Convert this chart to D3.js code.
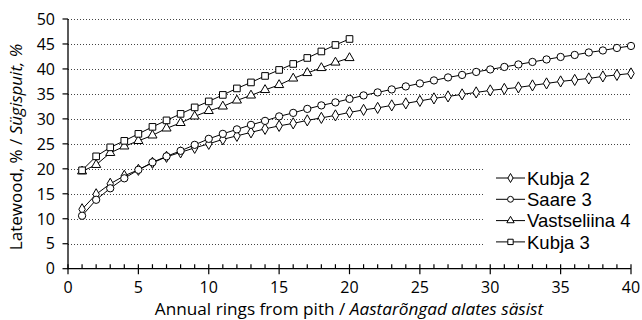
<!DOCTYPE html>
<html>
<head>
<meta charset="utf-8">
<script src="https://cdn.jsdelivr.net/npm/d3@7"></script>
<style>
  html, body { margin: 0; padding: 0; background: #fff; }
  svg { display: block; font-family: "Open Sans", Lato, sans-serif; }
</style>
</head>
<body>
<svg id="chart" width="642" height="320"></svg>
<script>
// Latewood share by annual ring from pith
const rings40 = d3.range(1, 41);
const rings20 = d3.range(1, 21);

const kubja2 = [11.9, 14.9, 17.0, 18.6, 19.8, 21.2, 22.4, 23.3, 24.2, 25.0,
                25.9, 26.6, 27.3, 28.0, 28.6, 29.1, 29.7, 30.2, 30.7, 31.3,
                31.8, 32.2, 32.7, 33.1, 33.6, 34.1, 34.5, 34.9, 35.3, 35.7,
                36.0, 36.3, 36.7, 37.1, 37.5, 37.8, 38.1, 38.5, 38.8, 39.1];
const saare3 = [10.6, 13.8, 16.1, 18.1, 19.8, 21.3, 22.5, 23.6, 24.8, 26.0,
                27.0, 27.9, 28.8, 29.6, 30.5, 31.2, 32.0, 32.7, 33.3, 34.0,
                34.7, 35.3, 35.9, 36.5, 37.1, 37.7, 38.3, 38.8, 39.4, 39.9,
                40.4, 40.9, 41.4, 41.9, 42.4, 42.8, 43.3, 43.7, 44.2, 44.6];
const vastseliina4 = [19.5, 20.8, 23.2, 24.5, 25.6, 26.7, 28.1, 29.2, 30.5, 31.6,
                      32.5, 33.7, 34.7, 35.8, 36.8, 38.1, 39.2, 40.2, 41.3, 42.2];
const kubja3 = [19.7, 22.5, 24.3, 25.6, 27.0, 28.4, 29.7, 31.0, 32.3, 33.5,
                34.8, 36.1, 37.3, 38.6, 39.8, 41.0, 42.2, 43.5, 44.8, 46.0];

const seriesNames = ["Kubja 2", "Saare 3", "Vastseliina 4", "Kubja 3"];
const xTicks = [0, 5, 10, 15, 20, 25, 30, 35, 40];
const yTicks = [0, 5, 10, 15, 20, 25, 30, 35, 40, 45, 50];
const xTitle = ["Annual rings from pith / ", "Aastarõngad alates säsist"];
const yTitle = ["Latewood, % / ", "Sügispuit, %"];

const series = [
  { name: seriesNames[0], x: rings40, y: kubja2, symbol: d3.symbolDiamond, size: 36 },
  { name: seriesNames[1], x: rings40, y: saare3, symbol: d3.symbolCircle, size: 42 },
  { name: seriesNames[2], x: rings20, y: vastseliina4, symbol: d3.symbolTriangle, size: 36 },
  { name: seriesNames[3], x: rings20, y: kubja3, symbol: d3.symbolSquare, size: 44 }
];

const svg = d3.select("#chart");
const margin = { left: 68, top: 19, right: 11, bottom: 52 };
const W = 642, H = 320;

const x = d3.scaleLinear().domain([0, 40]).range([margin.left, W - margin.right]);
const y = d3.scaleLinear().domain([0, 50]).range([H - margin.bottom + 0.7, margin.top]);

// dotted horizontal gridlines
svg.append("g")
  .selectAll("line")
  .data(yTicks.filter(d => d > 0))
  .join("line")
  .attr("x1", x(0)).attr("x2", x(40))
  .attr("y1", d => Math.round(y(d)) + 0.5).attr("y2", d => Math.round(y(d)) + 0.5)
  .attr("stroke", "#444").attr("stroke-width", 1)
  .attr("stroke-dasharray", "1,2");

// series lines and markers
const line = d3.line().x(d => x(d[0])).y(d => y(d[1]));
series.forEach(s => {
  const pts = s.x.map((v, i) => [v, s.y[i]]);
  svg.append("path")
    .datum(pts)
    .attr("d", line)
    .attr("fill", "none").attr("stroke", "#000").attr("stroke-width", 1);
  svg.append("g")
    .selectAll("path")
    .data(pts)
    .join("path")
    .attr("transform", d => `translate(${x(d[0])},${y(d[1])})`)
    .attr("d", d3.symbol(s.symbol, s.size))
    .attr("fill", "#fff").attr("stroke", "#000").attr("stroke-width", 1);
});

// legend (white box over the gridlines)
const lg = svg.append("g").attr("transform", "translate(483,158)");
lg.append("rect").attr("width", 159).attr("height", 96).attr("fill", "#fff");
series.forEach((s, i) => {
  const cy = 20 + i * 21.3;
  lg.append("line").attr("x1", 13).attr("x2", 42).attr("y1", cy).attr("y2", cy)
    .attr("stroke", "#000").attr("stroke-width", 1);
  lg.append("path").attr("transform", `translate(27.5,${cy})`)
    .attr("d", d3.symbol(s.symbol, s.size * 0.65))
    .attr("fill", "#fff").attr("stroke", "#000").attr("stroke-width", 1);
  lg.append("text").attr("x", 44).attr("y", cy).attr("dy", "0.36em")
    .attr("font-family", "'Liberation Sans', Arial, sans-serif")
    .attr("font-size", 18.5).attr("fill", "#000").text(s.name);
});

// x axis: major ticks crossing, minor ticks inside
const xAxisY = y(0);
const xg = svg.append("g");
xg.append("line").attr("x1", x(0)).attr("x2", x(40)).attr("y1", xAxisY).attr("y2", xAxisY)
  .attr("stroke", "#000").attr("stroke-width", 1.3);
xg.selectAll("line.minor").data(d3.range(0, 41)).join("line").attr("class", "minor")
  .attr("x1", d => x(d)).attr("x2", d => x(d))
  .attr("y1", xAxisY - 4.5).attr("y2", d => xTicks.includes(d) ? xAxisY + 5.5 : xAxisY)
  .attr("stroke", "#000").attr("stroke-width", 1.2);
xg.selectAll("text").data(xTicks).join("text")
  .attr("x", d => x(d)).attr("y", xAxisY + 24).attr("text-anchor", "middle")
  .attr("font-size", 16).text(d => d);

// y axis
const yg = svg.append("g");
yg.append("line").attr("x1", x(0)).attr("x2", x(0)).attr("y1", y(0) + 0.6).attr("y2", y(50))
  .attr("stroke", "#000").attr("stroke-width", 1.3);
yg.selectAll("line.t").data(yTicks).join("line").attr("class", "t")
  .attr("x1", x(0) - 5.5).attr("x2", x(0))
  .attr("y1", d => y(d)).attr("y2", d => y(d))
  .attr("stroke", "#000").attr("stroke-width", 1.2);
yg.selectAll("text").data(yTicks).join("text")
  .attr("x", x(0) - 13).attr("y", d => y(d)).attr("dy", "0.36em")
  .attr("text-anchor", "end").attr("font-size", 16).text(d => d);

// axis titles
const xt = svg.append("text").attr("x", 349).attr("y", 315)
  .attr("text-anchor", "middle").attr("font-size", 17.2);
xt.append("tspan").text(xTitle[0]);
xt.append("tspan").attr("font-style", "italic").text(xTitle[1]);

const yt = svg.append("text")
  .attr("transform", "translate(22,147) rotate(-90)")
  .attr("text-anchor", "middle").attr("font-size", 17);
yt.append("tspan").text(yTitle[0]);
yt.append("tspan").attr("font-style", "italic").text(yTitle[1]);
</script>
</body>
</html>
